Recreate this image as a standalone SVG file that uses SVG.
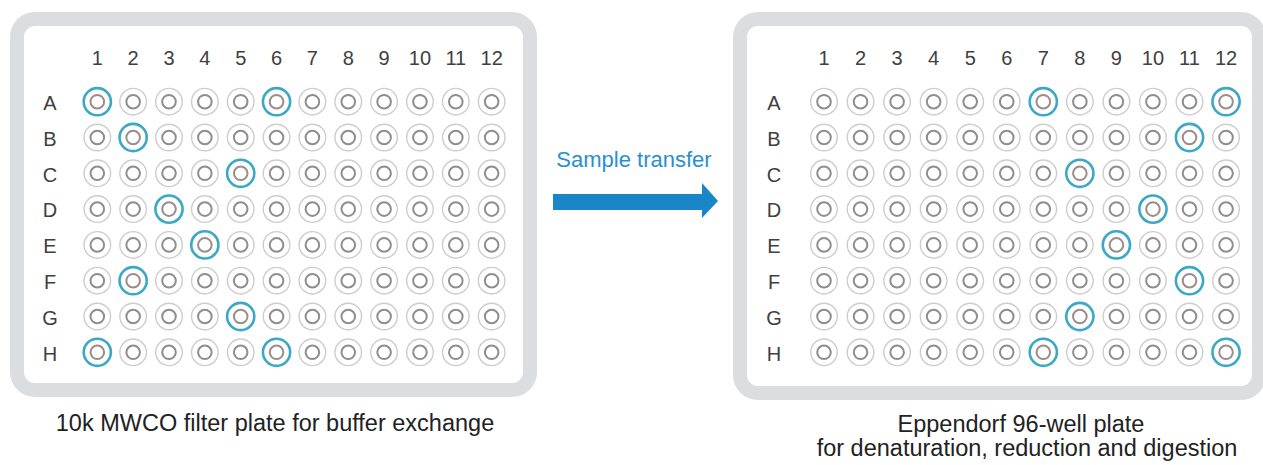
<svg xmlns="http://www.w3.org/2000/svg" xmlns:xlink="http://www.w3.org/1999/xlink" width="1263" height="465" viewBox="0 0 1263 465">
<style>
.plate{fill:#ffffff;stroke:#dcdddf;stroke-width:14}
.wo{fill:none;stroke:#cdcdcd;stroke-width:1.4}
.wi{fill:none;stroke:#8e8e8e;stroke-width:2}
.ho{fill:none;stroke:#3aa8c6;stroke-width:2.6}
.hi{fill:none;stroke:#9a8d8a;stroke-width:2}
.lab{font-family:"Liberation Sans",Arial,sans-serif;font-size:20px;fill:#404040;text-anchor:middle}
.cap{font-family:"Liberation Sans",Arial,sans-serif;font-size:23.5px;fill:#222222;text-anchor:middle}
.xfer{font-family:"Liberation Sans",Arial,sans-serif;font-size:22px;fill:#2a8fcf;text-anchor:middle}
</style>
<defs>
<g id="w"><circle r="13.3" class="wo"/><circle r="6.8" class="wi"/></g>
<g id="wh"><circle r="13.6" class="ho"/><circle r="6.8" class="hi"/></g>
</defs>
<rect width="1263" height="465" fill="#ffffff"/>

<g id="plate-left">
<rect class="plate" x="17" y="19" width="513" height="371" rx="18"/>
<g class="lab">
<text x="97.3" y="65">1</text><text x="133.15" y="65">2</text><text x="169" y="65">3</text><text x="204.85" y="65">4</text><text x="240.7" y="65">5</text><text x="276.55" y="65">6</text><text x="312.4" y="65">7</text><text x="348.25" y="65">8</text><text x="384.1" y="65">9</text><text x="419.95" y="65">10</text><text x="455.8" y="65">11</text><text x="491.65" y="65">12</text>
<text x="50" y="110">A</text><text x="50" y="145.8">B</text><text x="50" y="181.6">C</text><text x="50" y="217.4">D</text><text x="50" y="253.2">E</text><text x="50" y="289">F</text><text x="50" y="324.8">G</text><text x="50" y="360.6">H</text>
</g>
<g transform="translate(0,101.7)"><use href="#wh" x="97.3"/><use href="#w" x="133.15"/><use href="#w" x="169"/><use href="#w" x="204.85"/><use href="#w" x="240.7"/><use href="#wh" x="276.55"/><use href="#w" x="312.4"/><use href="#w" x="348.25"/><use href="#w" x="384.1"/><use href="#w" x="419.95"/><use href="#w" x="455.8"/><use href="#w" x="491.65"/></g>
<g transform="translate(0,137.5)"><use href="#w" x="97.3"/><use href="#wh" x="133.15"/><use href="#w" x="169"/><use href="#w" x="204.85"/><use href="#w" x="240.7"/><use href="#w" x="276.55"/><use href="#w" x="312.4"/><use href="#w" x="348.25"/><use href="#w" x="384.1"/><use href="#w" x="419.95"/><use href="#w" x="455.8"/><use href="#w" x="491.65"/></g>
<g transform="translate(0,173.3)"><use href="#w" x="97.3"/><use href="#w" x="133.15"/><use href="#w" x="169"/><use href="#w" x="204.85"/><use href="#wh" x="240.7"/><use href="#w" x="276.55"/><use href="#w" x="312.4"/><use href="#w" x="348.25"/><use href="#w" x="384.1"/><use href="#w" x="419.95"/><use href="#w" x="455.8"/><use href="#w" x="491.65"/></g>
<g transform="translate(0,209.1)"><use href="#w" x="97.3"/><use href="#w" x="133.15"/><use href="#wh" x="169"/><use href="#w" x="204.85"/><use href="#w" x="240.7"/><use href="#w" x="276.55"/><use href="#w" x="312.4"/><use href="#w" x="348.25"/><use href="#w" x="384.1"/><use href="#w" x="419.95"/><use href="#w" x="455.8"/><use href="#w" x="491.65"/></g>
<g transform="translate(0,244.9)"><use href="#w" x="97.3"/><use href="#w" x="133.15"/><use href="#w" x="169"/><use href="#wh" x="204.85"/><use href="#w" x="240.7"/><use href="#w" x="276.55"/><use href="#w" x="312.4"/><use href="#w" x="348.25"/><use href="#w" x="384.1"/><use href="#w" x="419.95"/><use href="#w" x="455.8"/><use href="#w" x="491.65"/></g>
<g transform="translate(0,280.7)"><use href="#w" x="97.3"/><use href="#wh" x="133.15"/><use href="#w" x="169"/><use href="#w" x="204.85"/><use href="#w" x="240.7"/><use href="#w" x="276.55"/><use href="#w" x="312.4"/><use href="#w" x="348.25"/><use href="#w" x="384.1"/><use href="#w" x="419.95"/><use href="#w" x="455.8"/><use href="#w" x="491.65"/></g>
<g transform="translate(0,316.5)"><use href="#w" x="97.3"/><use href="#w" x="133.15"/><use href="#w" x="169"/><use href="#w" x="204.85"/><use href="#wh" x="240.7"/><use href="#w" x="276.55"/><use href="#w" x="312.4"/><use href="#w" x="348.25"/><use href="#w" x="384.1"/><use href="#w" x="419.95"/><use href="#w" x="455.8"/><use href="#w" x="491.65"/></g>
<g transform="translate(0,352.3)"><use href="#wh" x="97.3"/><use href="#w" x="133.15"/><use href="#w" x="169"/><use href="#w" x="204.85"/><use href="#w" x="240.7"/><use href="#wh" x="276.55"/><use href="#w" x="312.4"/><use href="#w" x="348.25"/><use href="#w" x="384.1"/><use href="#w" x="419.95"/><use href="#w" x="455.8"/><use href="#w" x="491.65"/></g>
<text class="cap" x="275" y="431">10k MWCO filter plate for buffer exchange</text>
</g>

<g id="plate-right">
<rect class="plate" x="740" y="19" width="519" height="374" rx="18"/>
<g class="lab">
<text x="824" y="65">1</text><text x="860.55" y="65">2</text><text x="897.1" y="65">3</text><text x="933.65" y="65">4</text><text x="970.2" y="65">5</text><text x="1006.75" y="65">6</text><text x="1043.3" y="65">7</text><text x="1079.85" y="65">8</text><text x="1116.4" y="65">9</text><text x="1152.95" y="65">10</text><text x="1189.5" y="65">11</text><text x="1226.05" y="65">12</text>
<text x="774" y="110">A</text><text x="774" y="145.8">B</text><text x="774" y="181.6">C</text><text x="774" y="217.4">D</text><text x="774" y="253.2">E</text><text x="774" y="289">F</text><text x="774" y="324.8">G</text><text x="774" y="360.6">H</text>
</g>
<g transform="translate(0,101.7)"><use href="#w" x="824"/><use href="#w" x="860.55"/><use href="#w" x="897.1"/><use href="#w" x="933.65"/><use href="#w" x="970.2"/><use href="#w" x="1006.75"/><use href="#wh" x="1043.3"/><use href="#w" x="1079.85"/><use href="#w" x="1116.4"/><use href="#w" x="1152.95"/><use href="#w" x="1189.5"/><use href="#wh" x="1226.05"/></g>
<g transform="translate(0,137.5)"><use href="#w" x="824"/><use href="#w" x="860.55"/><use href="#w" x="897.1"/><use href="#w" x="933.65"/><use href="#w" x="970.2"/><use href="#w" x="1006.75"/><use href="#w" x="1043.3"/><use href="#w" x="1079.85"/><use href="#w" x="1116.4"/><use href="#w" x="1152.95"/><use href="#wh" x="1189.5"/><use href="#w" x="1226.05"/></g>
<g transform="translate(0,173.3)"><use href="#w" x="824"/><use href="#w" x="860.55"/><use href="#w" x="897.1"/><use href="#w" x="933.65"/><use href="#w" x="970.2"/><use href="#w" x="1006.75"/><use href="#w" x="1043.3"/><use href="#wh" x="1079.85"/><use href="#w" x="1116.4"/><use href="#w" x="1152.95"/><use href="#w" x="1189.5"/><use href="#w" x="1226.05"/></g>
<g transform="translate(0,209.1)"><use href="#w" x="824"/><use href="#w" x="860.55"/><use href="#w" x="897.1"/><use href="#w" x="933.65"/><use href="#w" x="970.2"/><use href="#w" x="1006.75"/><use href="#w" x="1043.3"/><use href="#w" x="1079.85"/><use href="#w" x="1116.4"/><use href="#wh" x="1152.95"/><use href="#w" x="1189.5"/><use href="#w" x="1226.05"/></g>
<g transform="translate(0,244.9)"><use href="#w" x="824"/><use href="#w" x="860.55"/><use href="#w" x="897.1"/><use href="#w" x="933.65"/><use href="#w" x="970.2"/><use href="#w" x="1006.75"/><use href="#w" x="1043.3"/><use href="#w" x="1079.85"/><use href="#wh" x="1116.4"/><use href="#w" x="1152.95"/><use href="#w" x="1189.5"/><use href="#w" x="1226.05"/></g>
<g transform="translate(0,280.7)"><use href="#w" x="824"/><use href="#w" x="860.55"/><use href="#w" x="897.1"/><use href="#w" x="933.65"/><use href="#w" x="970.2"/><use href="#w" x="1006.75"/><use href="#w" x="1043.3"/><use href="#w" x="1079.85"/><use href="#w" x="1116.4"/><use href="#w" x="1152.95"/><use href="#wh" x="1189.5"/><use href="#w" x="1226.05"/></g>
<g transform="translate(0,316.5)"><use href="#w" x="824"/><use href="#w" x="860.55"/><use href="#w" x="897.1"/><use href="#w" x="933.65"/><use href="#w" x="970.2"/><use href="#w" x="1006.75"/><use href="#w" x="1043.3"/><use href="#wh" x="1079.85"/><use href="#w" x="1116.4"/><use href="#w" x="1152.95"/><use href="#w" x="1189.5"/><use href="#w" x="1226.05"/></g>
<g transform="translate(0,352.3)"><use href="#w" x="824"/><use href="#w" x="860.55"/><use href="#w" x="897.1"/><use href="#w" x="933.65"/><use href="#w" x="970.2"/><use href="#w" x="1006.75"/><use href="#wh" x="1043.3"/><use href="#w" x="1079.85"/><use href="#w" x="1116.4"/><use href="#w" x="1152.95"/><use href="#w" x="1189.5"/><use href="#wh" x="1226.05"/></g>
<text class="cap" x="1021" y="432">Eppendorf 96-well plate</text>
<text class="cap" x="1027" y="456">for denaturation, reduction and digestion</text>
</g>

<g id="connectors">
<path d="M553,194 L702,194 L702,183 L718,201 L702,218 L702,210 L553,210 Z" fill="#1a86c8"/>
<text class="xfer" x="634" y="167">Sample transfer</text>
</g>
</svg>
